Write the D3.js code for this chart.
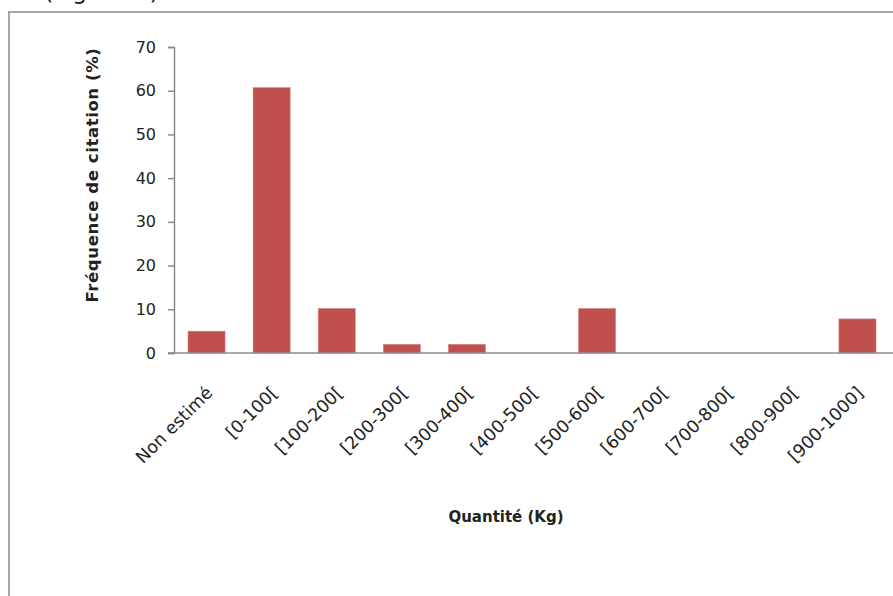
<!DOCTYPE html>
<html>
<head>
<meta charset="utf-8">
<script src="https://cdnjs.cloudflare.com/ajax/libs/d3/7.8.5/d3.min.js"></script>
<style>
  html, body { margin: 0; padding: 0; background: #fff; }
  svg { display: block; }
  text { font-family: "DejaVu Sans", sans-serif; fill: #222; }
</style>
</head>
<body>
<svg id="chart" width="893" height="596"></svg>
<script>
// Quantité citée par classe (kg) et fréquence de citation (%)
const categories = ["Non estimé", "[0-100[", "[100-200[", "[200-300[", "[300-400[",
  "[400-500[", "[500-600[", "[600-700[", "[700-800[", "[800-900[", "[900-1000]"];
const frequences = [5, 60.7, 10.2, 2, 2, 0, 10.2, 0, 0, 0, 7.8];
const yTicks = [0, 10, 20, 30, 40, 50, 60, 70];

const svg = d3.select("#chart");

// cadre de la figure
svg.append("path")
  .attr("d", "M9,596 V12 H893")
  .attr("fill", "none")
  .attr("stroke", "#a6a6a6")
  .attr("stroke-width", 2);

// légende de figure, coupée en haut
svg.append("text")
  .attr("x", 44).attr("y", -1)
  .attr("font-family", "Lato, sans-serif")
  .attr("font-size", 24)
  .text("(Figure 1)");

const plotLeft = 174, plotRight = 890, plotTop = 47, plotBottom = 353;

const x = d3.scaleBand()
  .domain(categories)
  .range([plotLeft, plotRight])
  .paddingInner(0.43)
  .paddingOuter(0.215);

const y = d3.scaleLinear().domain([0, 70]).range([plotBottom, plotTop]);

// barres
svg.append("g").selectAll("rect")
  .data(categories.map((c, i) => ({ c, v: frequences[i] })).filter(d => d.v > 0))
  .join("rect")
  .attr("x", d => x(d.c))
  .attr("y", d => y(d.v))
  .attr("width", x.bandwidth())
  .attr("height", d => y(0) - y(d.v))
  .attr("fill", "#c0504d")
  .attr("stroke", "#d98b89")
  .attr("stroke-width", 0.6);

// axe vertical
const yAxis = svg.append("g")
  .attr("transform", `translate(${plotLeft},0)`)
  .call(d3.axisLeft(y).tickValues(yTicks).tickSize(6).tickPadding(12).tickFormat(d3.format("d")));
yAxis.select(".domain").attr("stroke", "#8c8c8c").attr("stroke-width", 1.5);
yAxis.selectAll(".tick line").attr("stroke", "#8c8c8c").attr("stroke-width", 1.5);
yAxis.selectAll(".tick text")
  .attr("font-size", 16)
  .attr("font-family", "DejaVu Sans, sans-serif")
  .attr("fill", "#222");

// axe horizontal
svg.append("line")
  .attr("x1", plotLeft - 6).attr("x2", 893)
  .attr("y1", y(0)).attr("y2", y(0))
  .attr("stroke", "#8c8c8c").attr("stroke-width", 1.5);

// étiquettes de catégories inclinées
svg.append("g").selectAll("text")
  .data(categories)
  .join("text")
  .attr("transform", d => `translate(${x(d) + x.bandwidth() / 2 + 7},${y(0) + 41}) rotate(-45)`)
  .attr("text-anchor", "end")
  .attr("font-size", 17.5)
  .text(d => d);

// titres des axes
svg.append("text")
  .attr("transform", `translate(98,175) rotate(-90)`)
  .attr("text-anchor", "middle")
  .attr("font-size", 16.5)
  .attr("font-weight", "bold")
  .attr("letter-spacing", 0.6)
  .text("Fréquence de citation (%)");

svg.append("text")
  .attr("x", 506).attr("y", 522)
  .attr("text-anchor", "middle")
  .attr("font-size", 15)
  .attr("font-weight", "bold")
  .text("Quantité (Kg)");
</script>
</body>
</html>
